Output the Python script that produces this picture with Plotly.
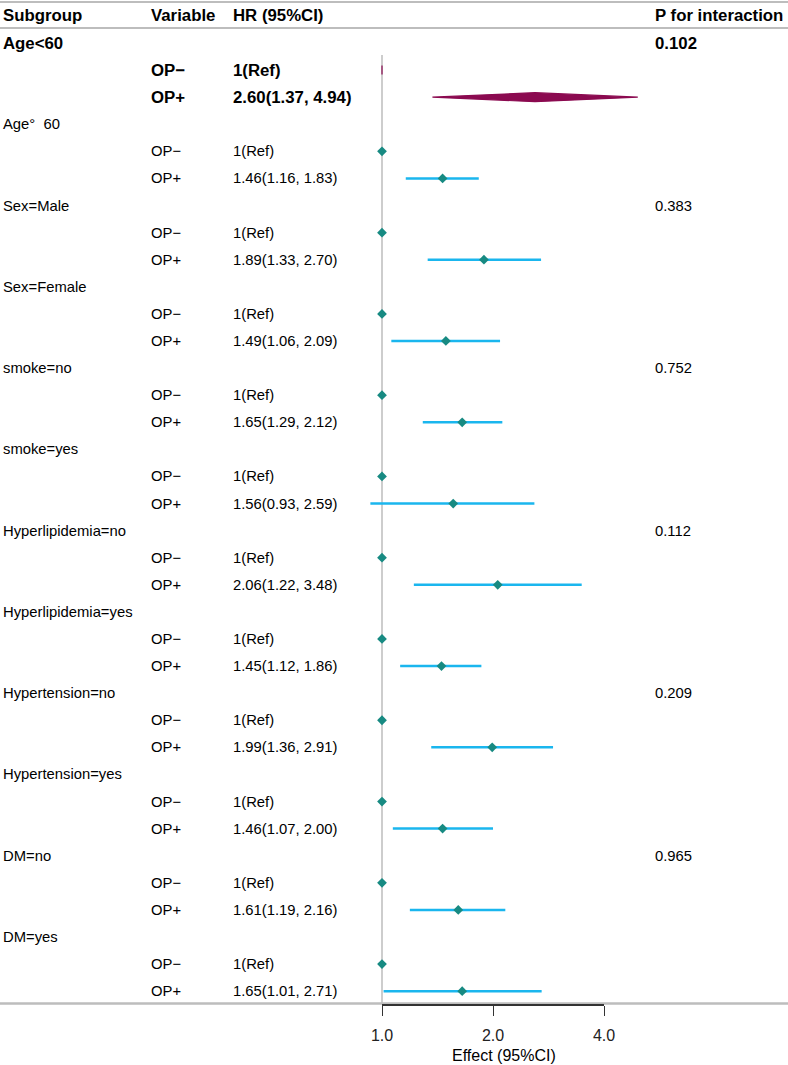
import plotly.graph_objects as go
import math

# ---------------- data ----------------
subgroups = ["Age<60", "Age°\u00a0\u00a060", "Sex=Male", "Sex=Female", "smoke=no", "smoke=yes",
             "Hyperlipidemia=no", "Hyperlipidemia=yes", "Hypertension=no", "Hypertension=yes",
             "DM=no", "DM=yes"]
hr = [2.60, 1.46, 1.89, 1.49, 1.65, 1.56, 2.06, 1.45, 1.99, 1.46, 1.61, 1.65]
lo = [1.37, 1.16, 1.33, 1.06, 1.29, 0.93, 1.22, 1.12, 1.36, 1.07, 1.19, 1.01]
hi = [4.94, 1.83, 2.70, 2.09, 2.12, 2.59, 3.48, 1.86, 2.91, 2.00, 2.16, 2.71]
p_int = ["0.102", "", "0.383", "", "0.752", "", "0.112", "", "0.209", "", "0.965", ""]
variables = ["OP−", "OP+"]
ref_label = "1(Ref)"
headers = ["Subgroup", "Variable", "HR (95%CI)", "P for interaction"]
tick_vals = [1, 2, 4]
tick_text = ["1.0", "2.0", "4.0"]
bold_groups = [0]

# ---------------- layout constants ----------------
W, H = 788, 1065
FIRST, STEP = 43.0, 27.09
X1PX, DOUBLE = 382.0, 111.0
PXLOG = DOUBLE / math.log10(2)
FONT = "Liberation Sans, Arial, Helvetica, sans-serif"
TEAL = "#178A82"
BLUE = "#1AB6EE"
MAROON = "#8B0A50"
GRAYLINE = "#BDBDBD"
REG, BOLD = 14.8, 16.8

def row_of_px(p):
    return (p - FIRST) / STEP

col_x = [1, 149, 230.5, 653]
def px(x):
    return x / W

fig = go.Figure()
annotations = []
shapes = []

def add_text(xpx, row, text, bold=False):
    s = BOLD if bold else REG
    annotations.append(dict(x=px(xpx), xref="paper", y=row, yref="y", text=(f"<b>{text}</b>" if bold else text),
                            showarrow=False, xanchor="left", yanchor="middle",
                            font=dict(family=FONT, size=s, color="#000000")))

hdr_row = row_of_px(15)
for cx, h in zip(col_x, headers):
    add_text(cx, hdr_row, h, bold=True)

ci_x, ci_y = [], []
mk_x, mk_y = [], []
h_d = 4.5 / STEP
for g, name in enumerate(subgroups):
    r0 = 3 * g
    b = g in bold_groups
    add_text(col_x[0], r0, name, bold=b)
    if p_int[g]:
        add_text(col_x[3], r0, p_int[g], bold=b)
    add_text(col_x[1], r0 + 1, variables[0], bold=b)
    add_text(col_x[2], r0 + 1, ref_label, bold=b)
    add_text(col_x[1], r0 + 2, variables[1], bold=b)
    add_text(col_x[2], r0 + 2, f"{hr[g]:.2f}({lo[g]:.2f}, {hi[g]:.2f})", bold=b)
    if b:
        for (l, e, u, rr) in [(1, 1, 1, r0 + 1), (lo[g], hr[g], hi[g], r0 + 2)]:
            fig.add_trace(go.Scatter(x=[l, e, u, e, l], y=[rr, rr - h_d, rr, rr + h_d, rr],
                                     mode="lines", fill="toself", fillcolor=MAROON,
                                     line=dict(color=MAROON, width=1.2),
                                     hoverinfo="skip", showlegend=False))
    else:
        ci_x += [lo[g], hi[g], None]
        ci_y += [r0 + 2, r0 + 2, None]
        mk_x += [1, hr[g]]
        mk_y += [r0 + 1, r0 + 2]

fig.add_trace(go.Scatter(x=ci_x, y=ci_y, mode="lines", line=dict(color=BLUE, width=2.5),
                         hoverinfo="skip", showlegend=False))
fig.add_trace(go.Scatter(x=mk_x, y=mk_y, mode="markers",
                         marker=dict(symbol="diamond", size=7.5, color=TEAL, line=dict(width=0)),
                         hoverinfo="skip", showlegend=False))
# invisible trace so the effect axis subplot exists
fig.add_trace(go.Scatter(x=[1], y=[0], xaxis="x2", yaxis="y", mode="markers",
                         marker=dict(opacity=0), hoverinfo="skip", showlegend=False))

for p, wdt in [(2, 2), (28, 2), (1003.5, 2.5)]:
    shapes.append(dict(type="line", xref="paper", x0=0, x1=1, yref="y", y0=row_of_px(p), y1=row_of_px(p),
                       line=dict(color=GRAYLINE, width=wdt), layer="below"))
shapes.append(dict(type="line", xref="x", x0=1, x1=1, yref="y", y0=row_of_px(55), y1=row_of_px(1003),
                   line=dict(color=GRAYLINE, width=1.5), layer="below"))

annotations.append(dict(x=px(504), xref="paper", y=(H - 1055) / H, yref="paper", text="Effect (95%CI)",
                        showarrow=False, xanchor="center", yanchor="middle",
                        font=dict(family=FONT, size=16, color="#000000")))

xl = -X1PX / PXLOG
xr = (W - X1PX) / PXLOG
fig.update_layout(
    width=W, height=H,
    margin=dict(l=0, r=0, t=0, b=0, autoexpand=False),
    paper_bgcolor="white", plot_bgcolor="rgba(0,0,0,0)",
    xaxis=dict(type="log", range=[xl, xr], domain=[0, 1], visible=False, fixedrange=True),
    yaxis=dict(range=[row_of_px(H), row_of_px(0)], domain=[0, 1], visible=False, fixedrange=True),
    xaxis2=dict(type="log", range=[0, math.log10(4)], domain=[X1PX / W, (X1PX + 2 * DOUBLE) / W],
                anchor="free", position=(H - 1005) / H, showline=True, linecolor="#333333", linewidth=1.5,
                ticks="outside", ticklen=10, tickwidth=1.2, tickcolor="#333333",
                tickvals=tick_vals, ticktext=tick_text, showgrid=False, zeroline=False,
                tickfont=dict(family=FONT, size=16, color="#222222"), ticklabelstandoff=6,
                fixedrange=True),
    annotations=annotations,
    shapes=shapes,
    showlegend=False,
)

fig.write_html("out.html",
               post_script="document.body.style.margin='0';document.documentElement.style.overflow='hidden';")
